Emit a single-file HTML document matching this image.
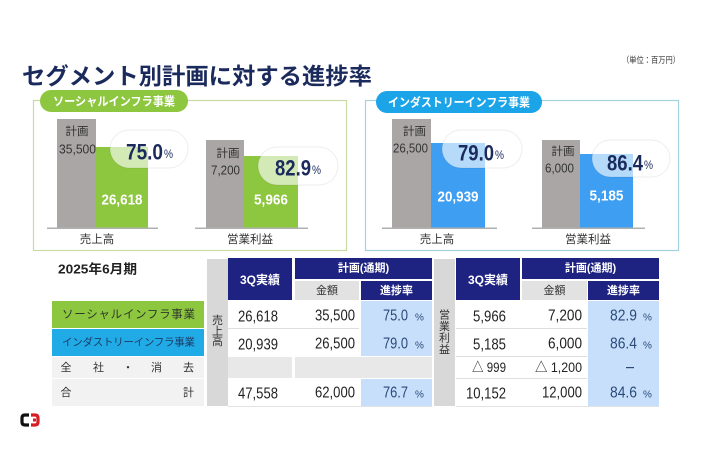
<!DOCTYPE html>
<html>
<head>
<meta charset="utf-8">
<style>
html,body{margin:0;padding:0;background:#fff;}
svg{display:block;}
text{font-family:"Liberation Sans","Noto Sans CJK JP",sans-serif;}
</style>
</head>
<body>
<svg width="710" height="474" viewBox="0 0 710 474" xmlns="http://www.w3.org/2000/svg">
<rect x="0" y="0" width="710" height="474" fill="#ffffff"/>

<!-- Title -->
<text x="22" y="76" dominant-baseline="central" font-size="23" font-weight="700" fill="#1b2a5c" textLength="350" lengthAdjust="spacingAndGlyphs">セグメント別計画に対する進捗率</text>
<text x="622" y="60" dominant-baseline="central" font-size="8.5" fill="#333" textLength="58" lengthAdjust="spacingAndGlyphs">（単位：百万円）</text>

<!-- Left panel -->
<rect x="33.5" y="100.5" width="313" height="150" fill="none" stroke="#c9d9a6" stroke-width="1.2"/>
<rect x="40" y="90" width="148" height="22" rx="11" fill="#8dc63f"/>
<text x="114" y="101.5" dominant-baseline="central" text-anchor="middle" font-size="12" font-weight="700" fill="#fff" textLength="122" lengthAdjust="spacingAndGlyphs">ソーシャルインフラ事業</text>

<!-- bars left1 -->
<rect x="57" y="119" width="39" height="109" fill="#aaa6a6"/>
<rect x="96" y="147" width="52" height="81" fill="#8dc63f"/>
<rect x="47" y="227.5" width="111" height="1.5" fill="#b0b0b0"/>
<text x="77" y="132" dominant-baseline="central" text-anchor="middle" font-size="11.5" fill="#333">計画</text>
<text x="77.5" y="149" dominant-baseline="central" text-anchor="middle" font-size="13" fill="#333" textLength="37" lengthAdjust="spacingAndGlyphs">35,500</text>
<text x="122" y="200" dominant-baseline="central" text-anchor="middle" font-size="15" font-weight="700" fill="#fff" textLength="41" lengthAdjust="spacingAndGlyphs">26,618</text>
<rect x="110" y="130" width="78" height="38" rx="19" fill="#ffffff" fill-opacity="0.62" stroke="#000" stroke-opacity="0.07"/>
<text x="126" y="152" dominant-baseline="central" font-size="22" font-weight="700" fill="#1b2a5c" textLength="37" lengthAdjust="spacingAndGlyphs">75.0</text>
<text x="164" y="154" dominant-baseline="central" font-size="12" fill="#1b2a5c" textLength="9" lengthAdjust="spacingAndGlyphs">%</text>
<text x="97" y="240" dominant-baseline="central" text-anchor="middle" font-size="11.5" fill="#333">売上高</text>

<!-- bars left2 -->
<rect x="206" y="140" width="38" height="88" fill="#aaa6a6"/>
<rect x="244" y="156" width="54" height="72" fill="#8dc63f"/>
<rect x="195" y="227.5" width="113" height="1.5" fill="#b0b0b0"/>
<text x="228" y="154" dominant-baseline="central" text-anchor="middle" font-size="11.5" fill="#333">計画</text>
<text x="225.5" y="170" dominant-baseline="central" text-anchor="middle" font-size="13" fill="#333" textLength="29" lengthAdjust="spacingAndGlyphs">7,200</text>
<text x="271" y="200" dominant-baseline="central" text-anchor="middle" font-size="15" font-weight="700" fill="#fff" textLength="34" lengthAdjust="spacingAndGlyphs">5,966</text>
<rect x="258" y="147" width="80" height="38" rx="19" fill="#ffffff" fill-opacity="0.62" stroke="#000" stroke-opacity="0.07"/>
<text x="275" y="168" dominant-baseline="central" font-size="22" font-weight="700" fill="#1b2a5c" textLength="36" lengthAdjust="spacingAndGlyphs">82.9</text>
<text x="312" y="170" dominant-baseline="central" font-size="12" fill="#1b2a5c" textLength="9" lengthAdjust="spacingAndGlyphs">%</text>
<text x="250" y="240" dominant-baseline="central" text-anchor="middle" font-size="11.5" fill="#333">営業利益</text>

<!-- Right panel -->
<rect x="365.5" y="100.5" width="313" height="150" fill="none" stroke="#a3d2df" stroke-width="1.2"/>
<rect x="376" y="91" width="166" height="22" rx="11" fill="#1ca4e8"/>
<text x="459" y="102.5" dominant-baseline="central" text-anchor="middle" font-size="12" font-weight="700" fill="#fff" textLength="142" lengthAdjust="spacingAndGlyphs">インダストリーインフラ事業</text>

<!-- bars right1 -->
<rect x="392" y="119" width="39" height="109" fill="#aaa6a6"/>
<rect x="431" y="143" width="54" height="85" fill="#3d9ef2"/>
<rect x="382" y="227.5" width="115" height="1.5" fill="#b0b0b0"/>
<text x="414.5" y="132" dominant-baseline="central" text-anchor="middle" font-size="11.5" fill="#333">計画</text>
<text x="410.5" y="148" dominant-baseline="central" text-anchor="middle" font-size="13" fill="#333" textLength="35" lengthAdjust="spacingAndGlyphs">26,500</text>
<text x="458" y="197" dominant-baseline="central" text-anchor="middle" font-size="15" font-weight="700" fill="#fff" textLength="41" lengthAdjust="spacingAndGlyphs">20,939</text>
<rect x="442" y="130" width="80" height="38" rx="19" fill="#ffffff" fill-opacity="0.62" stroke="#000" stroke-opacity="0.07"/>
<text x="458" y="153" dominant-baseline="central" font-size="22" font-weight="700" fill="#1b2a5c" textLength="36" lengthAdjust="spacingAndGlyphs">79.0</text>
<text x="495" y="155" dominant-baseline="central" font-size="12" fill="#1b2a5c" textLength="9" lengthAdjust="spacingAndGlyphs">%</text>
<text x="437" y="240" dominant-baseline="central" text-anchor="middle" font-size="11.5" fill="#333">売上高</text>

<!-- bars right2 -->
<rect x="542" y="140" width="38" height="88" fill="#aaa6a6"/>
<rect x="580" y="154" width="53" height="74" fill="#3d9ef2"/>
<rect x="532" y="227.5" width="113" height="1.5" fill="#b0b0b0"/>
<text x="563" y="152" dominant-baseline="central" text-anchor="middle" font-size="11.5" fill="#333">計画</text>
<text x="559.5" y="168" dominant-baseline="central" text-anchor="middle" font-size="13" fill="#333" textLength="29" lengthAdjust="spacingAndGlyphs">6,000</text>
<text x="606.5" y="196" dominant-baseline="central" text-anchor="middle" font-size="15" font-weight="700" fill="#fff" textLength="34" lengthAdjust="spacingAndGlyphs">5,185</text>
<rect x="592" y="140" width="78" height="37" rx="18.5" fill="#ffffff" fill-opacity="0.62" stroke="#000" stroke-opacity="0.07"/>
<text x="607" y="163" dominant-baseline="central" font-size="22" font-weight="700" fill="#1b2a5c" textLength="36" lengthAdjust="spacingAndGlyphs">86.4</text>
<text x="644" y="165" dominant-baseline="central" font-size="12" fill="#1b2a5c" textLength="9" lengthAdjust="spacingAndGlyphs">%</text>
<text x="588" y="240" dominant-baseline="central" text-anchor="middle" font-size="11.5" fill="#333">営業利益</text>

<!-- ===== Table ===== -->
<text x="58" y="269" dominant-baseline="central" font-size="13" font-weight="700" fill="#222" textLength="79" lengthAdjust="spacingAndGlyphs">2025年6月期</text>

<!-- left labels -->
<rect x="52" y="301" width="152" height="27" fill="#8dc63f"/>
<rect x="52" y="329" width="152" height="27" fill="#20aae6"/>
<rect x="52" y="357" width="152" height="21" fill="#f2f2f2"/>
<rect x="52" y="379" width="152" height="27" fill="#f2f2f2"/>
<text x="62" y="315" dominant-baseline="central" font-size="11.5" fill="#2e3a2c" textLength="133" lengthAdjust="spacing">ソーシャルインフラ事業</text>
<text x="62" y="342.5" dominant-baseline="central" font-size="10.5" fill="#1d3b66" textLength="133" lengthAdjust="spacing">インダストリーインフラ事業</text>
<g font-size="11" fill="#333" text-anchor="middle" dominant-baseline="central">
<text x="66" y="368">全</text>
<text x="98.5" y="368">社</text>
<text x="128" y="368">・</text>
<text x="156.5" y="368">消</text>
<text x="188.5" y="368">去</text>
<text x="66" y="393">合</text>
<text x="188.5" y="393">計</text>
</g>

<!-- left table (売上高) -->
<rect x="207" y="259" width="21" height="147" fill="#d8d8d8"/>
<g font-size="11" fill="#333" text-anchor="middle" dominant-baseline="central">
<text x="217.5" y="321">売</text>
<text x="217.5" y="331.5">上</text>
<text x="217.5" y="342">高</text>
</g>
<rect x="228" y="258" width="64" height="42" fill="#1e2280"/>
<rect x="295" y="258" width="137" height="21" fill="#1e2280"/>
<rect x="295" y="281" width="64" height="19" fill="#e2e2e2"/>
<rect x="361" y="281" width="71" height="19" fill="#1e2280"/>
<text x="260" y="280" dominant-baseline="central" text-anchor="middle" font-size="12" font-weight="700" fill="#fff">3Q実績</text>
<text x="363.5" y="268.5" dominant-baseline="central" text-anchor="middle" font-size="11" font-weight="700" fill="#fff">計画(通期)</text>
<text x="327" y="291" dominant-baseline="central" text-anchor="middle" font-size="11" fill="#333">金額</text>
<text x="396.5" y="291" dominant-baseline="central" text-anchor="middle" font-size="11" font-weight="700" fill="#fff">進捗率</text>

<rect x="228" y="301" width="64" height="55" fill="#fff"/>
<rect x="361" y="301" width="71" height="55" fill="#c7dffb"/>
<rect x="228" y="357" width="64" height="21" fill="#e8e8e8"/>
<rect x="295" y="357" width="137" height="21" fill="#e8e8e8"/>
<rect x="361" y="379" width="71" height="27" fill="#c7dffb"/>
<rect x="228" y="328" width="131" height="1" fill="#dedede"/>
<rect x="228" y="406" width="204" height="1" fill="#e2e2e2"/>

<g font-size="15.5" fill="#222" dominant-baseline="central">
<text x="258" y="317" text-anchor="middle" textLength="40" lengthAdjust="spacingAndGlyphs">26,618</text>
<text x="258" y="345" text-anchor="middle" textLength="40" lengthAdjust="spacingAndGlyphs">20,939</text>
<text x="258" y="394" text-anchor="middle" textLength="40" lengthAdjust="spacingAndGlyphs">47,558</text>
<text x="355" y="316" text-anchor="end" textLength="40" lengthAdjust="spacingAndGlyphs">35,500</text>
<text x="355" y="344" text-anchor="end" textLength="40" lengthAdjust="spacingAndGlyphs">26,500</text>
<text x="355" y="393" text-anchor="end" textLength="40" lengthAdjust="spacingAndGlyphs">62,000</text>
</g>
<g font-size="15.5" fill="#2a4a78" dominant-baseline="central">
<text x="383" y="316" textLength="25" lengthAdjust="spacingAndGlyphs">75.0</text>
<text x="383" y="344" textLength="25" lengthAdjust="spacingAndGlyphs">79.0</text>
<text x="383" y="393" textLength="25" lengthAdjust="spacingAndGlyphs">76.7</text>
</g>
<g font-size="10" fill="#2a4a78" dominant-baseline="central">
<text x="415" y="318">%</text>
<text x="415" y="346">%</text>
<text x="415" y="395">%</text>
</g>

<!-- right table (営業利益) -->
<rect x="434" y="259" width="21" height="147" fill="#d8d8d8"/>
<g font-size="11" fill="#333" text-anchor="middle" dominant-baseline="central">
<text x="444.5" y="315.5">営</text>
<text x="444.5" y="327">業</text>
<text x="444.5" y="338.5">利</text>
<text x="444.5" y="350">益</text>
</g>
<rect x="456" y="258" width="64" height="42" fill="#1e2280"/>
<rect x="522" y="258" width="137" height="21" fill="#1e2280"/>
<rect x="522" y="281" width="65" height="19" fill="#e2e2e2"/>
<rect x="588" y="281" width="71" height="19" fill="#1e2280"/>
<text x="488" y="280" dominant-baseline="central" text-anchor="middle" font-size="12" font-weight="700" fill="#fff">3Q実績</text>
<text x="590.5" y="268.5" dominant-baseline="central" text-anchor="middle" font-size="11" font-weight="700" fill="#fff">計画(通期)</text>
<text x="554.5" y="291" dominant-baseline="central" text-anchor="middle" font-size="11" fill="#333">金額</text>
<text x="623.5" y="291" dominant-baseline="central" text-anchor="middle" font-size="11" font-weight="700" fill="#fff">進捗率</text>

<rect x="588" y="301" width="71" height="105" fill="#c7dffb"/>
<rect x="456" y="328" width="131" height="1" fill="#dedede"/>
<rect x="456" y="356" width="131" height="1" fill="#dedede"/>
<rect x="456" y="378" width="131" height="1" fill="#dedede"/>
<rect x="456" y="406" width="203" height="1" fill="#e2e2e2"/>

<g font-size="15.5" fill="#222" dominant-baseline="central">
<text x="489.5" y="317" text-anchor="middle" textLength="33" lengthAdjust="spacingAndGlyphs">5,966</text>
<text x="489.5" y="345" text-anchor="middle" textLength="33" lengthAdjust="spacingAndGlyphs">5,185</text>
<text x="489" y="367.5" text-anchor="middle" font-size="13.5" textLength="34" lengthAdjust="spacingAndGlyphs">△ 999</text>
<text x="486" y="394" text-anchor="middle" textLength="40" lengthAdjust="spacingAndGlyphs">10,152</text>
<text x="582" y="316" text-anchor="end" textLength="34" lengthAdjust="spacingAndGlyphs">7,200</text>
<text x="582" y="344" text-anchor="end" textLength="34" lengthAdjust="spacingAndGlyphs">6,000</text>
<text x="582" y="367.5" text-anchor="end" font-size="13.5" textLength="47" lengthAdjust="spacingAndGlyphs">△ 1,200</text>
<text x="582" y="393" text-anchor="end" textLength="40" lengthAdjust="spacingAndGlyphs">12,000</text>
</g>
<g font-size="15.5" fill="#2a4a78" dominant-baseline="central">
<text x="610" y="316" textLength="27" lengthAdjust="spacingAndGlyphs">82.9</text>
<text x="610" y="344" textLength="27" lengthAdjust="spacingAndGlyphs">86.4</text>
<text x="610" y="393" textLength="27" lengthAdjust="spacingAndGlyphs">84.6</text>
</g>
<rect x="626" y="367" width="8" height="1.2" fill="#2a4a78"/>
<g font-size="10" fill="#2a4a78" dominant-baseline="central">
<text x="643" y="318">%</text>
<text x="643" y="346">%</text>
<text x="643" y="395">%</text>
</g>

<!-- logo -->
<path d="M29 415 H25 Q22 415 22 418 V422 Q22 425 25 425 H29" fill="none" stroke="#111" stroke-width="3.2"/>
<path d="M31 415 H35 Q38 415 38 418 V422 Q38 425 35 425 H31" fill="none" stroke="#d81e25" stroke-width="3.2"/>
<rect x="33" y="418.5" width="3" height="3" fill="#d81e25"/>
</svg>
</body>
</html>
